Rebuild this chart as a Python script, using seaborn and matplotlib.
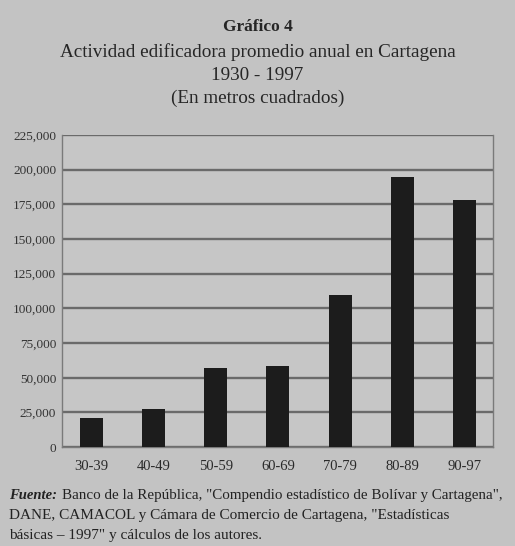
import matplotlib
matplotlib.use("Agg")
import matplotlib.pyplot as plt
import seaborn as sns
import pandas as pd
from matplotlib.ticker import FuncFormatter

periods = ["30-39", "40-49", "50-59", "60-69", "70-79", "80-89", "90-97"]
area_m2 = [20700, 27400, 57100, 58300, 109500, 194500, 178300]
y_ticks = [0, 25000, 50000, 75000, 100000, 125000, 150000, 175000, 200000, 225000]

title_lines = ["Gráfico 4",
               "Actividad edificadora promedio anual en Cartagena",
               "1930 - 1997",
               "(En metros cuadrados)"]
source_lines = ["Banco de la República, \"Compendio estadístico de Bolívar y Cartagena\",",
                "DANE, CAMACOL y Cámara de Comercio de Cartagena, \"Estadísticas",
                "básicas – 1997\" y cálculos de los autores."]

df = pd.DataFrame({"periodo": periods, "area": area_m2})

sns.set_theme(style="white")
plt.rcParams['font.family'] = ['Liberation Serif', 'DejaVu Serif']

bg = "#c3c3c3"
fig = plt.figure(figsize=(5.15, 5.46), dpi=100, facecolor=bg)
ax = fig.add_axes([0.120, 0.181, 0.837, 0.572])
ax.set_facecolor("#c6c6c6")

sns.barplot(data=df, x="periodo", y="area", color="#1c1c1c", width=0.37,
            saturation=1, edgecolor="#1c1c1c", linewidth=0, ax=ax, zorder=3)

ax.set_ylim(0, 225000)
ax.set_xlim(-0.47, 6.45)
ax.set_yticks(y_ticks)
ax.yaxis.set_major_formatter(FuncFormatter(lambda v, p: f"{int(v):,}"))
ax.grid(axis="y", color="#6a6a6a", linewidth=1.7, zorder=0)
ax.set_axisbelow(True)
ax.set_xlabel("")
ax.set_ylabel("")
for s in ["left", "right", "top", "bottom"]:
    ax.spines[s].set_visible(True)
    ax.spines[s].set_color("#7a7a7a")
    ax.spines[s].set_linewidth(1.0)
ax.spines["top"].set_visible(False)
ax.tick_params(axis="y", labelsize=9.5, colors="#333333", length=0, pad=4)
ax.tick_params(axis="x", labelsize=10.5, colors="#2a2a2a", length=0, pad=9)

# title block
fig.text(0.50, 0.950, title_lines[0], ha="center", va="center", fontsize=12.5,
         fontweight="bold", color="#262626")
for i, ln in enumerate(title_lines[1:]):
    fig.text(0.50, 0.905 - i * 0.043, ln, ha="center", va="center",
             fontsize=13.8, color="#262626")

# source block
y0 = 0.092
fig.text(0.018, y0, "Fuente:", ha="left", va="center", fontsize=10.5,
         fontweight="bold", fontstyle="italic", color="#222222")
fig.text(0.120, y0, source_lines[0], ha="left", va="center", fontsize=10.8,
         color="#222222")
for i, ln in enumerate(source_lines[1:]):
    fig.text(0.018, y0 - (i + 1) * 0.036, ln, ha="left", va="center",
             fontsize=11, color="#222222")

fig.savefig("out.png", dpi=100, facecolor=bg)
